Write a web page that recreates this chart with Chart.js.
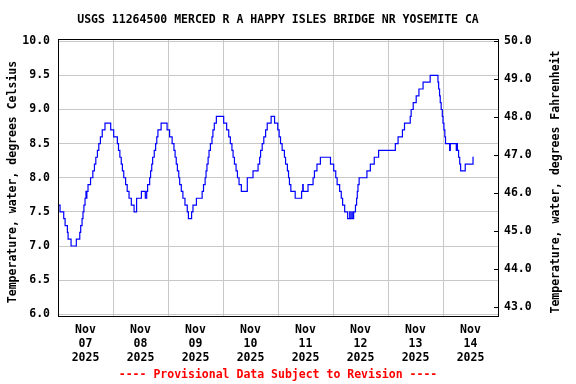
<!DOCTYPE html>
<html lang="en">
<head>
  <meta charset="UTF-8">
  <title>USGS 11264500 Water Temperature</title>
  <script src="https://cdn.jsdelivr.net/npm/chart.js"></script>
  <style>
    body { margin: 0; background: #fff; }
    #chart { display: block; }
  </style>
</head>
<body>
  <canvas id="chart" width="576" height="384"></canvas>
  <script>
    // hours after Nov 07 2025 00:00 at which the reading changes
    const hours = [
      0, 0.9, 2.5, 3.1, 4.1, 4.4, 5.7, 8.0, 9.5, 9.9,
      10.5, 10.9, 11.3, 11.8, 12.2, 12.4, 12.6, 13.1, 14.2, 15.2,
      15.9, 16.5, 17.2, 17.8, 18.5, 19.3, 20.5, 23.0, 24.3, 25.9,
      26.4, 27.0, 27.6, 28.1, 28.7, 29.5, 30.2, 31.0, 32.0, 33.2,
      34.3, 36.4, 38.1, 38.7, 39.1, 40.0, 40.4, 40.9, 41.3, 42.0,
      42.6, 43.1, 43.6, 45.0, 47.6, 48.7, 49.8, 50.6, 51.1, 51.6,
      52.1, 52.7, 53.1, 53.8, 54.5, 55.4, 56.4, 56.9, 58.3, 58.9,
      60.4, 62.9, 63.5, 64.2, 64.6, 65.0, 65.5, 65.9, 66.5, 67.2,
      67.6, 68.2, 69.1, 72.3, 73.6, 74.5, 75.2, 75.9, 76.4, 77.0,
      77.7, 78.3, 79.0, 80.0, 82.6, 85.1, 87.3, 88.0, 88.4, 89.1,
      89.8, 90.6, 91.3, 93.0, 94.5, 95.9, 96.5, 97.1, 97.8, 98.8,
      99.3, 100.1, 100.6, 101.0, 101.6, 103.5, 106.3, 106.8, 107.0, 109.1,
      111.3, 111.9, 113.0, 114.5, 118.9, 120.3, 121.2, 121.8, 122.9, 123.6,
      124.2, 125.1, 126.4, 127.3, 127.5, 128.2, 128.4, 129.0, 129.8, 130.3,
      130.6, 130.9, 131.4, 134.8, 136.3, 138.0, 139.9, 147.2, 148.4, 150.3,
      151.2, 153.7, 154.1, 155.0, 156.3, 157.5, 159.3, 162.4, 165.8, 166.1,
      166.5, 166.8, 167.2, 167.7, 168.0, 168.4, 168.8, 169.1, 170.9, 171.2,
      173.8, 174.1, 174.3, 174.8, 175.3, 175.7, 177.7, 181.1, 181.4
    ];
    // water temperature, degrees Celsius, from that hour on
    const tempC = [
      7.6, 7.5, 7.4, 7.3, 7.2, 7.1, 7.0, 7.1, 7.2, 7.3,
      7.4, 7.5, 7.6, 7.7, 7.8, 7.7, 7.8, 7.9, 8.0, 8.1,
      8.2, 8.3, 8.4, 8.5, 8.6, 8.7, 8.8, 8.7, 8.6, 8.5,
      8.4, 8.3, 8.2, 8.1, 8.0, 7.9, 7.8, 7.7, 7.6, 7.5,
      7.7, 7.8, 7.7, 7.8, 7.9, 8.0, 8.1, 8.2, 8.3, 8.4,
      8.5, 8.6, 8.7, 8.8, 8.7, 8.6, 8.5, 8.4, 8.3, 8.2,
      8.1, 8.0, 7.9, 7.8, 7.7, 7.6, 7.5, 7.4, 7.5, 7.6,
      7.7, 7.8, 7.9, 8.0, 8.1, 8.2, 8.3, 8.4, 8.5, 8.6,
      8.7, 8.8, 8.9, 8.8, 8.7, 8.6, 8.5, 8.4, 8.3, 8.2,
      8.1, 8.0, 7.9, 7.8, 8.0, 8.1, 8.2, 8.3, 8.4, 8.5,
      8.6, 8.7, 8.8, 8.9, 8.8, 8.7, 8.6, 8.5, 8.4, 8.3,
      8.2, 8.1, 8.0, 7.9, 7.8, 7.7, 7.8, 7.9, 7.8, 7.9,
      8.0, 8.1, 8.2, 8.3, 8.2, 8.1, 8.0, 7.9, 7.8, 7.7,
      7.6, 7.5, 7.4, 7.5, 7.4, 7.5, 7.4, 7.5, 7.6, 7.7,
      7.8, 7.9, 8.0, 8.1, 8.2, 8.3, 8.4, 8.5, 8.6, 8.7,
      8.8, 8.9, 9.0, 9.1, 9.2, 9.3, 9.4, 9.5, 9.4, 9.3,
      9.2, 9.1, 9.0, 8.9, 8.8, 8.7, 8.6, 8.5, 8.4, 8.5,
      8.4, 8.5, 8.4, 8.3, 8.2, 8.1, 8.2, 8.3, 8.3
    ];
    const dayLabels = [
      ['Nov', '07', '2025'], ['Nov', '08', '2025'], ['Nov', '09', '2025'], ['Nov', '10', '2025'],
      ['Nov', '11', '2025'], ['Nov', '12', '2025'], ['Nov', '13', '2025'], ['Nov', '14', '2025']
    ];
    const celsiusTicks = [6.0, 6.5, 7.0, 7.5, 8.0, 8.5, 9.0, 9.5, 10.0];
    const fahrenheitTicks = [43, 44, 45, 46, 47, 48, 49, 50];

    const titleText = 'USGS 11264500 MERCED R A HAPPY ISLES BRIDGE NR YOSEMITE CA';
    const footerText = '---- Provisional Data Subject to Revision ----';
    const leftTitle = 'Temperature, water, degrees Celsius';
    const rightTitle = 'Temperature, water, degrees Fahrenheit';

    const yMin = 5.975, yMax = 10.028;
    const toF = c => c * 1.8 + 32;
    const font = { family: '"DejaVu Sans Mono", monospace', size: 11.5, weight: 'bold' };
    const gridColor = '#c8c8c8';

    // frame, inward ticks on the Fahrenheit side, and both axis titles read bottom-to-top
    const framePlugin = {
      id: 'frame',
      afterDraw(chart) {
        const { ctx, chartArea: a, scales } = chart;
        ctx.save();
        ctx.strokeStyle = '#000';
        ctx.lineWidth = 1;
        ctx.strokeRect(Math.round(a.left) + 0.5, Math.round(a.top) + 0.5,
          Math.round(a.right - a.left), Math.round(a.bottom - a.top));
        ctx.beginPath();
        scales.yF.ticks.forEach(t => {
          const y = Math.round(scales.yF.getPixelForValue(t.value)) + 0.5;
          ctx.moveTo(a.right - 4, y);
          ctx.lineTo(a.right, y);
        });
        ctx.stroke();
        ctx.fillStyle = '#000';
        ctx.font = 'bold 11.5px "DejaVu Sans Mono", monospace';
        ctx.textAlign = 'center';
        ctx.textBaseline = 'middle';
        [[13, leftTitle], [556, rightTitle]].forEach(([x, text]) => {
          ctx.save();
          ctx.translate(x, 182);
          ctx.rotate(-Math.PI / 2);
          ctx.fillText(text, 0, 0);
          ctx.restore();
        });
        ctx.restore();
      }
    };

    new Chart(document.getElementById('chart'), {
      type: 'line',
      data: {
        datasets: [{
          data: hours.map((h, i) => ({ x: h, y: tempC[i] })),
          borderColor: '#0000ff',
          borderWidth: 1.2,
          pointRadius: 0,
          stepped: true,
          fill: false,
          yAxisID: 'y'
        }]
      },
      options: {
        responsive: false,
        animation: false,
        devicePixelRatio: 1,
        layout: { padding: 0 },
        plugins: {
          legend: { display: false },
          tooltip: { enabled: false },
          title: {
            display: true, text: titleText, color: '#000', font: font, fullSize: false,
            padding: { top: 13, bottom: 12.5 }
          },
          subtitle: {
            display: true, position: 'bottom', text: footerText, color: '#ff0000', font: font,
            fullSize: false, padding: { top: 0, bottom: 2 }
          }
        },
        scales: {
          x: {
            type: 'linear', min: 0, max: 192,
            afterBuildTicks: s => {
              const t = [];
              for (let v = 0; v <= 192; v += 12) t.push({ value: v });
              s.ticks = t;
            },
            afterFit: s => { s.height = 52.2; },
            grid: {
              color: c => (c.tick && c.tick.value % 24 === 0) ? gridColor : 'rgba(0,0,0,0)',
              drawTicks: false
            },
            border: { display: false },
            ticks: {
              autoSkip: false, maxRotation: 0, padding: 7, color: '#000',
              font: Object.assign({}, font, { lineHeight: '14px' }),
              callback: v => v % 24 === 12 ? dayLabels[(v - 12) / 24] : ''
            }
          },
          y: {
            position: 'left', min: yMin, max: yMax,
            afterBuildTicks: s => { s.ticks = celsiusTicks.map(v => ({ value: v })); },
            afterFit: s => { s.width = 58; },
            grid: { color: gridColor, drawTicks: false },
            border: { display: false },
            ticks: { padding: 8, color: '#000', font: font, callback: v => v.toFixed(1) }
          },
          yF: {
            position: 'right', min: toF(yMin), max: toF(yMax),
            afterBuildTicks: s => { s.ticks = fahrenheitTicks.map(v => ({ value: v })); },
            afterFit: s => { s.width = 78; },
            grid: { drawOnChartArea: false, drawTicks: false },
            border: { display: false },
            ticks: { padding: 6, color: '#000', font: font, callback: v => v.toFixed(1) }
          }
        }
      },
      plugins: [framePlugin]
    });
  </script>
</body>
</html>
